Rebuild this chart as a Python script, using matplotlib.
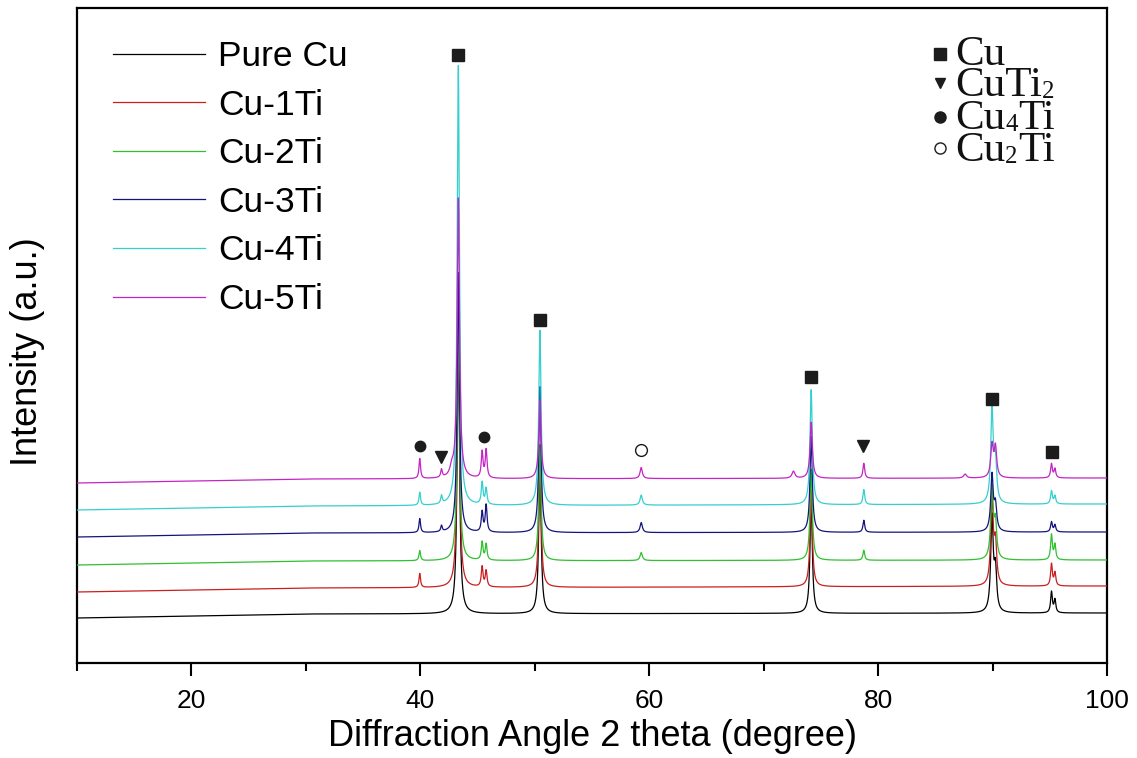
import numpy as np
import matplotlib
matplotlib.use("Agg")
import matplotlib.pyplot as plt

plt.rcParams['font.family'] = ['Liberation Sans', 'DejaVu Sans']

# ---------------- data ----------------
series_labels = ['Pure Cu', 'Cu-1Ti', 'Cu-2Ti', 'Cu-3Ti', 'Cu-4Ti', 'Cu-5Ti']
series_colors = ['#000000', '#C82020', '#30C030', '#14147E', '#35CFCF', '#C424C4']

# baseline level (a.u.) of each stacked pattern at 2theta = 10, 30, 100
baseline_2theta = [10, 30, 100]
base_pure = [45, 49, 50]
base_1ti = [71, 75, 77]
base_2ti = [98, 102, 103]
base_3ti = [126, 130, 131]
base_4ti = [153, 157, 159]
base_5ti = [180, 184, 185]

# peak positions (2theta, deg) and half widths
peak_pos = [39.95, 41.85, 42.75, 43.32, 45.40, 45.75, 50.45, 59.30, 72.60,
            74.15, 78.75, 87.60, 89.95, 90.25, 95.15, 95.45]
peak_hw = [0.08, 0.08, 0.18, 0.12, 0.09, 0.09, 0.12, 0.12, 0.15,
           0.12, 0.09, 0.15, 0.13, 0.13, 0.09, 0.09]

# peak heights above baseline for each sample
h_pure = [0, 0, 0, 290, 0, 0, 154, 0, 0, 114, 0, 0, 94, 40, 21, 13]
h_1ti = [14, 0, 0, 280, 20, 16, 137, 0, 0, 97, 0, 0, 87, 40, 22, 13]
h_2ti = [10, 0, 0, 250, 18, 16, 116, 8, 0, 91, 10, 0, 71, 35, 25, 15]
h_3ti = [14, 6, 0, 260, 20, 27, 146, 10, 0, 96, 12, 0, 56, 25, 10, 7]
h_4ti = [13, 8, 0, 440, 22, 16, 175, 10, 0, 115, 15, 0, 93, 40, 13, 8]
h_5ti = [20, 8, 8, 280, 26, 28, 79, 11, 7, 56, 15, 4, 32, 30, 14, 9]

# phase marker annotations (2theta, level)
cu_mark_x = [43.32, 50.45, 74.15, 89.95, 95.2]
cu_mark_y = [608, 343, 286, 264, 211]
cuti2_mark_x = [41.8, 78.7]
cuti2_mark_y = [206, 217]
cu4ti_mark_x = [40.0, 45.6]
cu4ti_mark_y = [217, 226]
cu2ti_mark_x = [59.3]
cu2ti_mark_y = [213]

xticks = [20, 40, 60, 80, 100]

# phase legend labels as (main, subscript, tail) pieces
phase_labels = [('Cu', '', ''), ('CuTi', '2', ''), ('Cu', '4', 'Ti'), ('Cu', '2', 'Ti')]

# ---------------- figure ----------------
fig = plt.figure(figsize=(11.37, 7.58), dpi=100)
ax = fig.add_axes([77 / 1137, 1 - 663 / 758, 1030 / 1137, 655 / 758])

two_theta = np.linspace(10, 100, 9001)
bases = [base_pure, base_1ti, base_2ti, base_3ti, base_4ti, base_5ti]
heights = [h_pure, h_1ti, h_2ti, h_3ti, h_4ti, h_5ti]

handles = []
for i, (lab, col, b, h) in enumerate(zip(series_labels, series_colors, bases, heights)):
    y = np.interp(two_theta, baseline_2theta, b)
    for p, w, hh in zip(peak_pos, peak_hw, h):
        if hh > 0:
            y = y + hh / (1 + ((two_theta - p) / w) ** 2)
    ln, = ax.plot(two_theta, y, color=col, lw=0.9, label=lab, zorder=2 + i)
    handles.append(ln)

mk = '#1c1c1c'
ax.plot(cu_mark_x, cu_mark_y, 's', color=mk, ms=8, ls='none', zorder=10)
ax.plot(cuti2_mark_x, cuti2_mark_y, 'v', color=mk, ms=8, ls='none', zorder=10)
ax.plot(cu4ti_mark_x, cu4ti_mark_y, 'o', color=mk, ms=7.5, ls='none', zorder=10)
ax.plot(cu2ti_mark_x, cu2ti_mark_y, 'o', mfc='white', mec=mk, mew=1.0, ms=8.5,
        ls='none', zorder=10)

ax.set_xlim(10, 100)
ax.set_ylim(0, 655)
ax.set_xticks(xticks)
ax.set_xticks(np.arange(10, 101, 10), minor=True)
ax.tick_params(axis='x', which='major', direction='out', length=9, width=1.5,
               labelsize=19, pad=10)
ax.tick_params(axis='x', which='minor', direction='out', length=6, width=1.5)
ax.set_yticks([])
for s in ax.spines.values():
    s.set_linewidth(1.6)

ax.set_xlabel('Diffraction Angle 2 theta (degree)', fontsize=26, labelpad=4)
ax.set_ylabel('Intensity (a.u.)', fontsize=26)
ax.yaxis.set_label_coords(-0.031, 0.475)

leg = ax.legend(handles=handles, loc='upper left', bbox_to_anchor=(0.035, 0.951),
                frameon=False, fontsize=25.5, handlelength=2.6, handletextpad=0.37,
                labelspacing=0.44, borderpad=0, borderaxespad=0)

# phase legend (top right)
lx_m = (940 - 77) / 1030
lx_t = (955 - 77) / 1030
def yfrac(px):
    return 1 - (px - 8) / 655

ax.plot([lx_m], [yfrac(54)], 's', color=mk, ms=8.5, transform=ax.transAxes, clip_on=False)
ax.plot([lx_m], [yfrac(83)], 'v', color=mk, ms=7, transform=ax.transAxes, clip_on=False)
ax.plot([lx_m], [yfrac(117)], 'o', color=mk, ms=8, transform=ax.transAxes, clip_on=False)
ax.plot([lx_m], [yfrac(148)], 'o', mfc='white', mec=mk, mew=1.0, ms=8,
        transform=ax.transAxes, clip_on=False)

renderer = fig.canvas.get_renderer()
inv = ax.transAxes.inverted()
big = 31
small = 18
for (main, sub, tail), base_px in zip(phase_labels, [65, 96, 129, 161]):
    yb = yfrac(base_px)
    t = ax.text(lx_t, yb, main, family='Liberation Serif', fontsize=big,
                color='#111111', transform=ax.transAxes, va='baseline', ha='left')
    x_end = inv.transform((t.get_window_extent(renderer).x1, 0))[0]
    if sub:
        ys = yfrac(base_px + 2)
        t2 = ax.text(x_end, ys, sub, family='Liberation Serif', fontsize=small,
                     color='#111111', transform=ax.transAxes, va='baseline', ha='left')
        x_end = inv.transform((t2.get_window_extent(renderer).x1, 0))[0]
    if tail:
        ax.text(x_end, yb, tail, family='Liberation Serif', fontsize=big,
                color='#111111', transform=ax.transAxes, va='baseline', ha='left')

fig.savefig('out.png', dpi=100)
